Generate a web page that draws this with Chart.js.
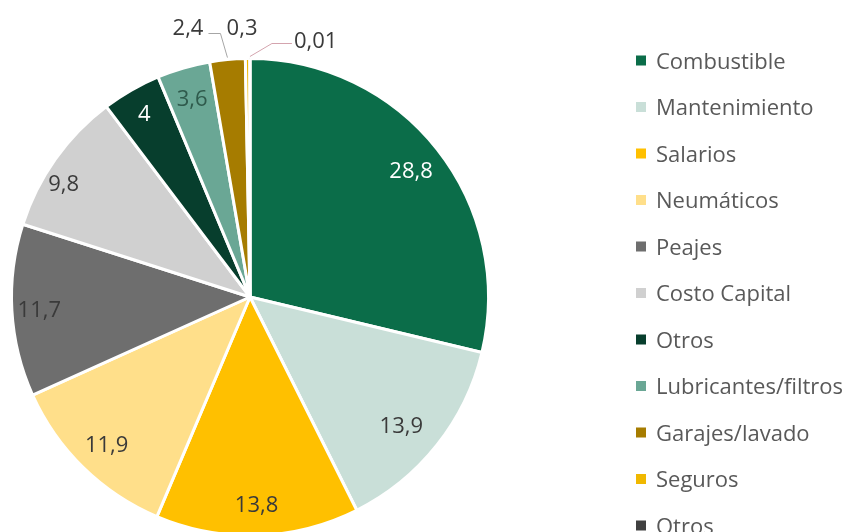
<!DOCTYPE html>
<html>
<head>
<meta charset="utf-8">
<script src="https://cdn.jsdelivr.net/npm/chart.js@4/dist/chart.umd.min.js"></script>
<style>
html,body{margin:0;padding:0;background:#fff;overflow:hidden;width:853px;height:532px;}
canvas{display:block;}
</style>
</head>
<body>
<canvas id="c" width="853" height="594"></canvas>
<script>
const categories = ["Combustible","Mantenimiento","Salarios","Neumáticos","Peajes","Costo Capital","Otros","Lubricantes/filtros","Garajes/lavado","Seguros","Otros"];
const values = [28.8,13.9,13.8,11.9,11.7,9.8,4,3.6,2.4,0.3,0.01];
const valueLabels = ["28,8","13,9","13,8","11,9","11,7","9,8","4","3,6","2,4","0,3","0,01"];
const colors = ["#0b6d49","#c9dfd8","#ffc000","#ffdf8a","#6e6e6e","#d0d0d0","#073e2d","#6aa795","#a67c00","#f0b800","#404040"];
const labelColors = ["#ffffff","#3a3a3a","#3a3a3a","#3a3a3a","#3a3a3a","#3a3a3a","#ffffff","#2f5a4c","#3a3a3a","#3a3a3a","#3a3a3a"];
const labelRadius = [0.86,0.83,0.87,0.86,0.885,0.915,0.89,0.87];
const labelAngleNudge = [0,0.03,0,0,0,-0.07,0,0];

const FONT = '"Open Sans", sans-serif';

const labelPlugin = {
  id: 'sliceLabels',
  afterDatasetsDraw(chart) {
    const ctx = chart.ctx;
    const arcs = chart.getDatasetMeta(0).data;
    ctx.save();
    ctx.font = '22px ' + FONT;
    ctx.textBaseline = 'alphabetic';
    arcs.forEach((arc, i) => {
      const mid = (arc.startAngle + arc.endAngle) / 2;
      const r = arc.outerRadius;
      if (i < 8) {
        const a = mid + labelAngleNudge[i];
        const x = arc.x + Math.cos(a) * r * labelRadius[i];
        const y = arc.y + Math.sin(a) * r * labelRadius[i];
        ctx.fillStyle = labelColors[i];
        ctx.textAlign = 'center';
        ctx.fillText(valueLabels[i], x, y + 8);
      } else {
        const ex = arc.x + Math.cos(mid) * r;
        const ey = arc.y + Math.sin(mid) * r;
        ctx.fillStyle = labelColors[i];
        if (i === 8) {
          ctx.strokeStyle = '#a6a6a6';
          ctx.lineWidth = 1;
          ctx.beginPath();
          ctx.moveTo(ex, ey - 2);
          ctx.lineTo(ex - 7, 33.5);
          ctx.lineTo(ex - 19, 33.5);
          ctx.stroke();
          ctx.textAlign = 'right';
          ctx.fillText(valueLabels[i], ex - 24, 35);
        } else if (i === 9) {
          ctx.textAlign = 'left';
          ctx.fillText(valueLabels[i], ex - 21, 35);
        } else {
          ctx.strokeStyle = '#d4a4ae';
          ctx.lineWidth = 1;
          ctx.beginPath();
          ctx.moveTo(ex, ey - 2);
          ctx.lineTo(ex + 22, 43.5);
          ctx.lineTo(ex + 42, 43.5);
          ctx.stroke();
          ctx.textAlign = 'left';
          ctx.fillText(valueLabels[i], ex + 44, 48);
        }
      }
    });
    ctx.restore();
  }
};

const legendPlugin = {
  id: 'sideLegend',
  afterDraw(chart) {
    const ctx = chart.ctx;
    ctx.save();
    ctx.font = '22px ' + FONT;
    ctx.textAlign = 'left';
    ctx.textBaseline = 'alphabetic';
    categories.forEach((name, i) => {
      const cy = 60.5 + i * 46.5;
      ctx.fillStyle = colors[i];
      ctx.fillRect(636, cy - 5, 10, 10);
      ctx.fillStyle = '#595959';
      ctx.fillText(name, 656, cy + 8);
    });
    ctx.restore();
  }
};

new Chart(document.getElementById('c'), {
  type: 'pie',
  data: {
    labels: categories,
    datasets: [{
      data: values,
      backgroundColor: colors,
      borderColor: '#ffffff',
      borderWidth: 3
    }]
  },
  options: {
    responsive: false,
    animation: false,
    devicePixelRatio: 1,
    layout: { padding: { left: 10, right: 363, top: 57, bottom: 57 } },
    plugins: {
      legend: { display: false },
      tooltip: { enabled: false }
    }
  },
  plugins: [labelPlugin, legendPlugin]
});
</script>
</body>
</html>
